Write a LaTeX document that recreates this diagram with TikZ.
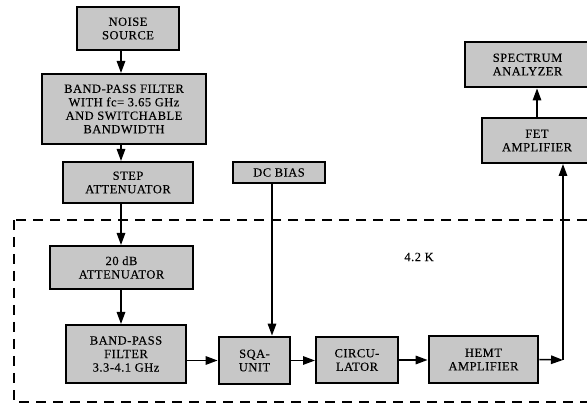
\documentclass[tikz,border=0pt]{standalone}
\usepackage{fontspec}
\usetikzlibrary{positioning}
\usetikzlibrary{arrows.meta}
\newfontfamily\boxfont[LetterSpace=4,FakeBold=0.15]{Liberation Serif}
\definecolor{boxgray}{gray}{0.78}

\begin{document}
\begin{tikzpicture}[x=1pt,y=-1pt,
	every node/.style={font=\boxfont\fontsize{12.5}{13.5}\selectfont,align=center,inner sep=1pt},
	blk/.style={draw,fill=boxgray,line width=2pt},
	thickblk/.style={blk,line width=2.8pt},
	flow/.style={-{Triangle[length=12pt,width=8.5pt]},line width=1.5pt}]
		\clip (0,0) rectangle (587,406);
		% boxes at room temperature
		\node[blk,minimum width=102,minimum height=43] (noise) at (128,28.5) {NOISE\\SOURCE};
		\node[blk,minimum width=164,minimum height=70] (bpfa) at (124,109) {BAND-PASS FILTER\\WITH fc= 3.65 GHz\\AND SWITCHABLE\\BANDWIDTH};
		\node[blk,minimum width=130,minimum height=41] (step) at (128,182.5) {STEP\\ATTENUATOR};
		\node[blk,minimum width=92,minimum height=21] (dc) at (279,172.5) {DC BIAS};
		\node[thickblk,minimum width=125,minimum height=45] (spec) at (527.5,64.5) {SPECTRUM\\ANALYZER};
		\node[blk,minimum width=110,minimum height=45] (fet) at (537,140.5) {FET\\AMPLIFIER};
		% cold part
		\draw[dash pattern=on 10pt off 7pt,line width=2.6pt] (14,220) rectangle (620,402);
		\node (temp) at (419,257) {4.2 K};
		\node[blk,minimum width=143,minimum height=43] (att) at (121.5,267.5) {20 dB\\ATTENUATOR};
		\node[blk,minimum width=120,minimum height=58] (bpfb) at (126,354) {BAND-PASS\\FILTER\\3.3-4.1 GHz};
		\node[thickblk,minimum width=71,minimum height=47] (sqa) at (254.5,360.5) {SQA-\\UNIT};
		\node[blk,minimum width=82,minimum height=46] (circ) at (357,360) {CIRCU-\\LATOR};
		\node[thickblk,minimum width=109,minimum height=47] (hemt) at (483.5,359.5) {HEMT\\AMPLIFIER};
		% connections
		\coordinate (col) at (121,0);
		\coordinate (turn) at (563,360);
		\draw[flow] (noise.south -| col) -- (bpfa.north -| col);
		\draw[flow] (bpfa.south -| col) -- (step.north -| col);
		\draw[flow] (step.south -| col) -- (att.north -| col);
		\draw[flow] (att.south -| col) -- (bpfb.north -| col);
		\draw[flow] ([xshift=-7pt]dc.south) -- ([xshift=17.5pt]sqa.north);
		\draw[flow] (bpfb.east |- sqa) -- (sqa.west);
		\draw[flow] (sqa.east) -- (circ.west |- sqa);
		\draw[flow] (circ.east) -- (hemt.west |- circ);
		\draw[flow] (hemt.east) -- (turn);
		\draw[flow] (turn) -- (fet.south -| turn);
		\draw[flow] (fet.north) -- (spec.south -| fet.north);
\end{tikzpicture}
\end{document}
